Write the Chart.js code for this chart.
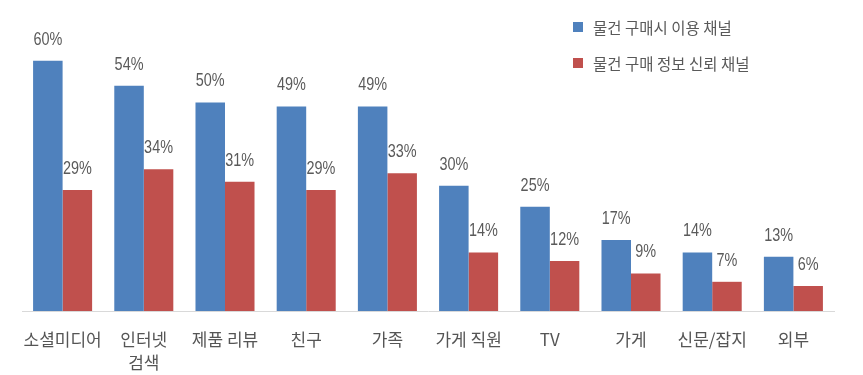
<!DOCTYPE html>
<html>
<head>
<meta charset="utf-8">
<script src="https://cdn.jsdelivr.net/npm/chart.js@4.4.1/dist/chart.umd.min.js"></script>
<style>
  html, body { margin: 0; padding: 0; background: #fff; }
  #wrap { position: relative; width: 863px; height: 375px; }
  #legend { position: absolute; left: 573px; top: 15px; font-family: 'Noto Sans CJK KR', sans-serif; font-size: 15.5px; color: #595959; }
  #legend div { display: flex; align-items: center; height: 24px; margin-bottom: 12px; }
  #legend span.box { display: inline-block; width: 10px; height: 10px; margin-right: 10px; }
</style>
</head>
<body>
<div id="wrap">
  <canvas id="c" width="863" height="375"></canvas>
  <div id="legend"></div>
</div>
<script>
const categories = ['소셜미디어', ['인터넷', '검색'], '제품 리뷰', '친구', '가족', '가게 직원', 'TV', '가게', '신문/잡지', '외부'];
const usage = [60, 54, 50, 49, 49, 30, 25, 17, 14, 13];
const trust = [29, 34, 31, 29, 33, 14, 12, 9, 7, 6];
const seriesNames = ['물건 구매시 이용 채널', '물건 구매 정보 신뢰 채널'];
const colors = ['#4F81BD', '#C0504D'];

// value labels above each bar, drawn condensed like Arial Narrow
const barLabels = {
  id: 'barLabels',
  afterDatasetsDraw(chart) {
    const ctx = chart.ctx;
    const sx = 0.78;
    ctx.save();
    ctx.font = '18.5px "Liberation Sans", Arial, sans-serif';
    ctx.fillStyle = '#5a5a5a';
    ctx.textAlign = 'center';
    ctx.textBaseline = 'bottom';
    ctx.scale(sx, 1);
    chart.data.datasets.forEach((ds, i) => {
      chart.getDatasetMeta(i).data.forEach((bar, j) => {
        ctx.fillText(ds.data[j] + '%', bar.x / sx, bar.y - 12);
      });
    });
    ctx.restore();
  }
};

new Chart(document.getElementById('c'), {
  type: 'bar',
  data: {
    labels: categories,
    datasets: [
      { label: seriesNames[0], data: usage, backgroundColor: colors[0] },
      { label: seriesNames[1], data: trust, backgroundColor: colors[1] }
    ]
  },
  options: {
    responsive: false,
    animation: false,
    layout: { padding: { left: 22, right: 29, top: 19, bottom: 0 } },
    datasets: { bar: { categoryPercentage: 0.727, barPercentage: 1.0 } },
    plugins: { legend: { display: false }, tooltip: { enabled: false } },
    scales: {
      x: {
        grid: { display: false, drawTicks: false },
        border: { display: true, color: '#d9d9d9', width: 1 },
        ticks: { color: '#555555', padding: 17, font: { family: '"Noto Sans CJK KR", sans-serif', size: 17, lineHeight: 1.35 }, maxRotation: 0, autoSkip: false },
        afterFit(scale) { scale.height = 64; }
      },
      y: {
        display: false,
        min: 0, max: 70
      }
    }
  },
  plugins: [barLabels]
});

const legend = document.getElementById('legend');
seriesNames.forEach((name, i) => {
  const row = document.createElement('div');
  row.innerHTML = '<span class="box" style="background:' + colors[i] + '"></span>' + name;
  legend.appendChild(row);
});
</script>
</body>
</html>
